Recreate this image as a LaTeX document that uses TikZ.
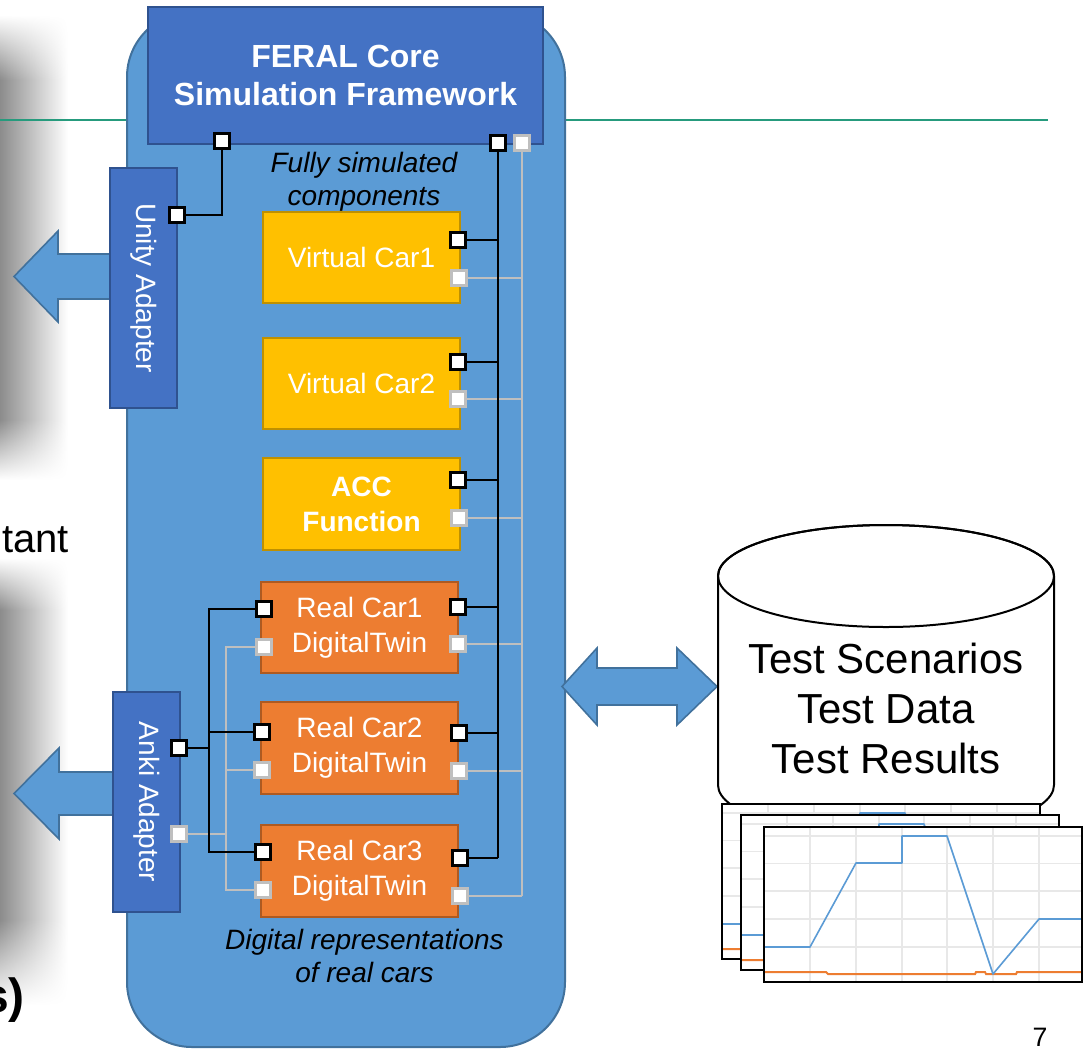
\documentclass[tikz,border=0pt]{standalone}
\usepackage{fontspec}
\setmainfont{Liberation Sans}
\usetikzlibrary{fadings}

\definecolor{containerfill}{HTML}{5B9BD5}
\definecolor{containerline}{HTML}{41719C}
\definecolor{feralfill}{HTML}{4472C4}
\definecolor{feralline}{HTML}{2F528F}
\definecolor{simfill}{HTML}{FFC000}
\definecolor{simline}{HTML}{BF9000}
\definecolor{realfill}{HTML}{ED7D31}
\definecolor{realline}{HTML}{AE5A21}
\definecolor{portgray}{HTML}{BFBFBF}
\definecolor{tealrule}{RGB}{38,155,125}
\definecolor{shadowgray}{RGB}{140,140,140}
\definecolor{chartblue}{HTML}{5B9BD5}
\definecolor{chartorange}{HTML}{ED7D31}
\definecolor{chartgrid}{HTML}{E8E8E8}

\newcommand{\sz}[2]{\fontsize{#1}{#2}\selectfont}

\begin{document}
\begin{tikzpicture}[x=0.75pt,y=-0.75pt,
  box/.style={draw, line width=1.5pt, inner sep=0pt, align=center, text=white, font=\sz{21}{26.25}},
  feralbox/.style={box, fill=feralfill, draw=feralline, font=\bfseries\sz{24}{28.5}},
  adapter/.style={box, fill=feralfill, draw=feralline, rotate=-90},
  simbox/.style={box, fill=simfill, draw=simline, minimum width=147.75pt, minimum height=68.25pt},
  realbox/.style={box, fill=realfill, draw=realline, minimum width=147.75pt, minimum height=68.25pt},
  bport/.style={draw=black, fill=white, line width=1.9pt, minimum size=11pt, inner sep=0pt},
  gport/.style={bport, draw=portgray},
  bwire/.style={line width=2pt, black},
  gwire/.style={line width=1.8pt, portgray},
  blockarrow/.style={fill=containerfill, draw=containerline, line width=1.2pt, line join=miter},
  note/.style={align=center, inner sep=0pt, font=\itshape\sz{21}{24.75}},
  chartframe/.style={draw=black, line width=1.5pt},
  gridline/.style={draw=chartgrid, line width=0.8pt},
  blueline/.style={draw=chartblue, line width=1.2pt, line join=round},
  orangeline/.style={draw=chartorange, line width=1.5pt},
]
\useasboundingbox (0,0) rectangle (1088,1050);

% blurred shadows on the left margin
\shade[left color=shadowgray, right color=white] (0,80) rectangle (68,420);
\shade[left color=shadowgray, right color=white, path fading=north] (0,15) rectangle (68,80);
\shade[left color=shadowgray, right color=white, path fading=south] (0,420) rectangle (68,480);
\shade[left color=shadowgray, right color=white] (0,610) rectangle (68,920);
\shade[left color=shadowgray, right color=white, path fading=north] (0,558) rectangle (68,610);
\shade[left color=shadowgray, right color=white, path fading=south] (0,920) rectangle (68,1005);

% slide rule and text fragments
\draw[tealrule, line width=1.5pt] (0,120) -- (1048,120);
\node[anchor=base east, inner sep=0pt, font=\sz{30}{36}] (tant) at (69,552) {tant};
\node[anchor=base east, inner sep=0pt, font=\bfseries\sz{36}{43}] (paren) at (25,1012) {s)};
\node[inner sep=0pt, font=\sz{20}{24}] (pagenum) at (1040,1037) {7};

% simulation container
\draw[fill=containerfill, draw=containerline, line width=1.5pt, rounded corners=48.75pt]
  (127,12) rectangle (565,1047);

% output arrows of the adapters
\draw[blockarrow] (113,254) -- (58,254) -- (58,231) -- (14,276.5) -- (58,322) -- (58,299) -- (113,299) -- cycle;
\draw[blockarrow] (116,772) -- (59,772) -- (59,748) -- (14,793.5) -- (59,839) -- (59,815) -- (116,815) -- cycle;

% framework, adapters and components
\node[feralbox, minimum width=296.25pt, minimum height=102.75pt, text depth=-2pt] (feral) at (345.5,75.5) {FERAL Core\\Simulation Framework};
\node[adapter, minimum width=180pt, minimum height=50.25pt] (unity) at (143.5,288) {Unity Adapter};
\node[adapter, minimum width=165pt, minimum height=50.25pt] (anki) at (146.5,802) {Anki Adapter};

\node[simbox] (vc1) at (361.5,257.5) {Virtual Car1};
\node[simbox] (vc2) at (361.5,383.5) {Virtual Car2};
\node[simbox, minimum height=69pt, font=\bfseries\sz{21}{26.25}] (acc) at (361.5,504) {ACC\\Function};

\node[realbox] (rc1) at (359.5,627.5) {Real Car1\\DigitalTwin};
\node[realbox, minimum height=69pt] (rc2) at (359.5,748) {Real Car2\\DigitalTwin};
\node[realbox, minimum height=69pt] (rc3) at (359.5,871) {Real Car3\\DigitalTwin};

\node[note] (simnote) at (364,182) {Fully simulated\\components};
\node[note] (realnote) at (364.5,956) {Digital representations\\of real cars};

% port positions
\coordinate (fp1c) at (222,141);
\coordinate (fpbc) at (498,143);
\coordinate (fpgc) at (522,143);
\coordinate (upc) at (177,215);
\coordinate (apbc) at (179,748);
\coordinate (apgc) at (179,834);
\coordinate (vc1bc) at (458,240);   \coordinate (vc1gc) at (459,278);
\coordinate (vc2bc) at (458,362);   \coordinate (vc2gc) at (458,399);
\coordinate (accbc) at (458,480);   \coordinate (accgc) at (459,518);
\coordinate (rc1lbc) at (264,609);  \coordinate (rc1lgc) at (264,647);
\coordinate (rc1rbc) at (458,607);  \coordinate (rc1rgc) at (458,644);
\coordinate (rc2lbc) at (262,732);  \coordinate (rc2lgc) at (262,770);
\coordinate (rc2rbc) at (459,733);  \coordinate (rc2rgc) at (459,771);
\coordinate (rc3lbc) at (263,852);  \coordinate (rc3lgc) at (263,890);
\coordinate (rc3rbc) at (460,858);  \coordinate (rc3rgc) at (460,896);
\coordinate (lbus) at (209,748);
\coordinate (gbus) at (226,834);

% grey wiring
\draw[gwire] (fpgc) -- (fpgc |- rc3rgc);
\foreach \p in {vc1gc,vc2gc,accgc,rc1rgc,rc2rgc,rc3rgc}
  \draw[gwire] (\p) -- (\p -| fpgc);
\draw[gwire] (rc1lgc) -- (rc1lgc -| gbus) -- (rc3lgc -| gbus) -- (rc3lgc);
\draw[gwire] (rc2lgc) -- (rc2lgc -| gbus);
\draw[gwire] (apgc) -- (gbus);

% black wiring
\draw[bwire] (upc) -| (fp1c);
\draw[bwire] (fpbc) -- (fpbc |- rc3rbc);
\foreach \p in {vc1bc,vc2bc,accbc,rc1rbc,rc2rbc,rc3rbc}
  \draw[bwire] (\p) -- (\p -| fpbc);
\draw[bwire] (rc1lbc) -- (rc1lbc -| lbus) -- (rc3lbc -| lbus) -- (rc3lbc);
\draw[bwire] (rc2lbc) -- (rc2lbc -| lbus);
\draw[bwire] (apbc) -- (lbus);

% ports
\foreach \p in {fp1c,fpbc,upc,apbc,vc1bc,vc2bc,accbc,rc1lbc,rc1rbc,rc2lbc,rc2rbc,rc3lbc,rc3rbc}
  \node[bport] at (\p) {};
\foreach \p in {fpgc,apgc,vc1gc,vc2gc,accgc,rc1lgc,rc1rgc,rc2lgc,rc2rgc,rc3lgc,rc3rgc}
  \node[gport] at (\p) {};

% data exchange arrow
\draw[blockarrow] (562,686.5) -- (597,648) -- (597,668) -- (677,668) -- (677,648) -- (717,686.5)
  -- (677,725) -- (677,705) -- (597,705) -- (597,725) -- cycle;

% test database
\draw[fill=white, line width=1.5pt] (718,576) -- (718,785)
  arc[start angle=180, end angle=0, x radius=168, y radius=51] -- (1054,576)
  arc[start angle=0, end angle=-180, x radius=168, y radius=51] -- cycle;
\draw[line width=1.5pt] (886,576) ellipse [x radius=168, y radius=51];
\node[align=center, inner sep=0pt, font=\sz{31.5}{37.5}] (db) at (886,708) {Test Scenarios\\Test Data\\Test Results};

% stacked result charts
\foreach \dx/\dy in {-42/-23,-23/-12,0/0} {
  \begin{scope}[shift={(\dx,\dy)}]
    \fill[white] (764,827) rectangle (1082,982);
    \foreach \gx in {810,856,902,947,993,1039}
      \draw[gridline] (\gx,827) -- (\gx,982);
    \foreach \gy in {836,863.5,891,919,947}
      \draw[gridline] (764,\gy) -- (1082,\gy);
    \draw[orangeline] (765,972) -- (826,972) -- (828,974) -- (975,974) -- (976,972) -- (985,972)
      -- (986,974) -- (1016,974) -- (1017,972) -- (1082,972);
    \draw[blueline] (765,947) -- (810,947) -- (856,863) -- (902,863) -- (902,836) -- (947,836)
      -- (993,974) -- (1039,919) -- (1082,919);
    \draw[chartframe] (764,827) rectangle (1082,982);
  \end{scope}
}
\end{tikzpicture}
\end{document}
